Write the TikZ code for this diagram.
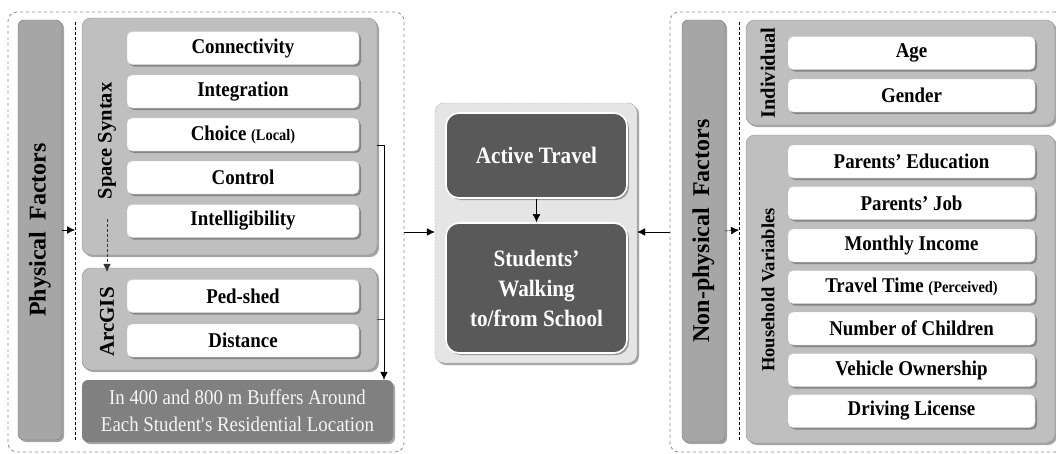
\documentclass[tikz,border=0pt]{standalone}
\usepackage{fontspec}
\setmainfont{Liberation Serif}[FakeStretch=0.9]
\newfontfamily\sidefont{Liberation Serif}
\usetikzlibrary{shadows,arrows.meta}

\tikzset{
	dropped/.style={drop shadow={shadow xshift=2pt, shadow yshift=-2pt, fill=black!70, opacity=0.5}},
	outerbox/.style={draw=black!45, dashed, line width=0.8pt, rounded corners=9pt},
	panel/.style={draw=black!45, fill=black!25, rounded corners=9pt, dropped},
	bar/.style={draw=black!55, fill=black!35, rounded corners=6pt, dropped},
	item/.style={fill=white, draw=black!20, rounded corners=5pt, inner sep=0pt, minimum height=33pt, dropped, font=\bfseries\fontsize{21}{24}\selectfont},
	dark/.style={fill=black!65, draw=white, line width=1.6pt, rounded corners=13pt, text=white, align=center, dropped, font=\bfseries\fontsize{23.5}{30}\selectfont},
	side/.style={rotate=90, font=\sidefont\bfseries\fontsize{#1}{#1}\selectfont},
	flow/.style={-{Latex[length=8pt,width=7.5pt]}, black},
	sep/.style={densely dashed, line width=0.9pt}
}
\newcommand{\smallpart}[1]{{\fontsize{16}{18}\selectfont#1}}

\begin{document}
\begin{tikzpicture}[x=1pt, y=-1pt]
	\useasboundingbox (0,0) rectangle (1056,453);

	% physical factors
	\node[outerbox, minimum width=396pt, minimum height=440pt] (outL) at (206,232) {};
	\node[bar, minimum width=44pt, minimum height=420pt] (phys) at (40,230) {};
	\node[side=24] at (phys) {Physical\hspace{0.45em}Factors};
	\draw[sep] (75,22) -- (75,440);
	\coordinate (sepL) at (75,230);

	\node[panel, minimum width=295pt, minimum height=237pt] (ss) at (229.5,136.5) {};
	\node[side=20.5] (ssl) at (107,141) {Space Syntax};
	\node[item, minimum width=232pt] (ss1) at (243,48) {Connectivity};
	\node[item, minimum width=232pt] (ss2) at (243,91.5) {Integration};
	\node[item, minimum width=232pt] (ss3) at (243,134.5) {Choice \smallpart{(Local)}};
	\node[item, minimum width=232pt] (ss4) at (243,177.5) {Control};
	\node[item, minimum width=232pt] (ss5) at (243,221) {Intelligibility};

	\node[panel, minimum width=295pt, minimum height=102pt] (ag) at (229.5,319) {};
	\node[side=21] (agl) at (107,322) {ArcGIS};
	\node[item, minimum width=232pt] (ag1) at (243,296) {Ped-shed};
	\node[item, minimum width=232pt] (ag2) at (243,340.5) {Distance};

	\node[fill=black!50, rounded corners=6pt, dropped, text=black!4, align=center, inner sep=0pt,
		minimum width=311pt, minimum height=62pt, font=\fontsize{21}{27}\selectfont] (buf) at (237.5,411)
		{In 400 and 800 m Buffers Around\\Each Student\textquotesingle s Residential Location};

	\coordinate (bus) at (384,145);
	\draw[flow] (phys.east) -- (sepL);
	\draw[flow, densely dashed, black!80] ([yshift=-16pt]ssl.west) -- ([yshift=-4pt]ssl.west |- ag.north);
	\draw[black!70] (ag.east) -- (ag.east -| bus);
	\draw[flow] (ss.east |- bus) -- (bus) -- (bus |- buf.north);

	% outcome
	\node[draw=black!65, densely dotted, fill=black!10, rounded corners=9pt, dropped,
		minimum width=202pt, minimum height=260pt] (mid) at (536,233) {};
	\node[dark, minimum width=181pt, minimum height=85pt] (act) at (536.5,155.5) {Active Travel};
	\node[dark, minimum width=181pt, minimum height=130pt] (walk) at (536.5,288) {Students'\\Walking\\to/from School};
	\draw[flow] (act.south) -- (walk.north);

	% non-physical factors
	\node[outerbox, minimum width=394pt, minimum height=440pt] (outR) at (867,232) {};
	\node[bar, minimum width=43pt, minimum height=422pt] (nonphys) at (703.5,231) {};
	\node[side=24] at (nonphys) {Non-physical\hspace{0.45em}Factors};
	\draw[sep] (739,22) -- (739,440);
	\coordinate (sepR) at (739,230);

	\node[panel, minimum width=309pt, minimum height=105pt] (ind) at (900.5,72.5) {};
	\node[side=20.5] (indl) at (768,73) {Individual};
	\node[item, minimum width=247pt] (ind1) at (911.5,53) {Age};
	\node[item, minimum width=247pt] (ind2) at (911.5,95.5) {Gender};

	\node[panel, minimum width=309pt, minimum height=308pt] (hh) at (900.5,289) {};
	\node[side=18.5] (hhl) at (768,290) {Household Variables};
	\node[item, minimum width=247pt] (hh1) at (911.5,161.5) {Parents' Education};
	\node[item, minimum width=247pt] (hh2) at (911.5,203) {Parents' Job};
	\node[item, minimum width=247pt] (hh3) at (911.5,245.5) {Monthly Income};
	\node[item, minimum width=247pt] (hh4) at (911.5,287) {Travel Time \smallpart{(Perceived)}};
	\node[item, minimum width=247pt] (hh5) at (911.5,328.5) {Number of Children};
	\node[item, minimum width=247pt] (hh6) at (911.5,370) {Vehicle Ownership};
	\node[item, minimum width=247pt] (hh7) at (911.5,411) {Driving License};

	\draw[flow] (nonphys.east) -- (sepR);
	\draw[flow] (outL.east) -- (outL.east -| mid.west);
	\draw[flow] (outR.west) -- (outR.west -| mid.east);
\end{tikzpicture}
\end{document}
